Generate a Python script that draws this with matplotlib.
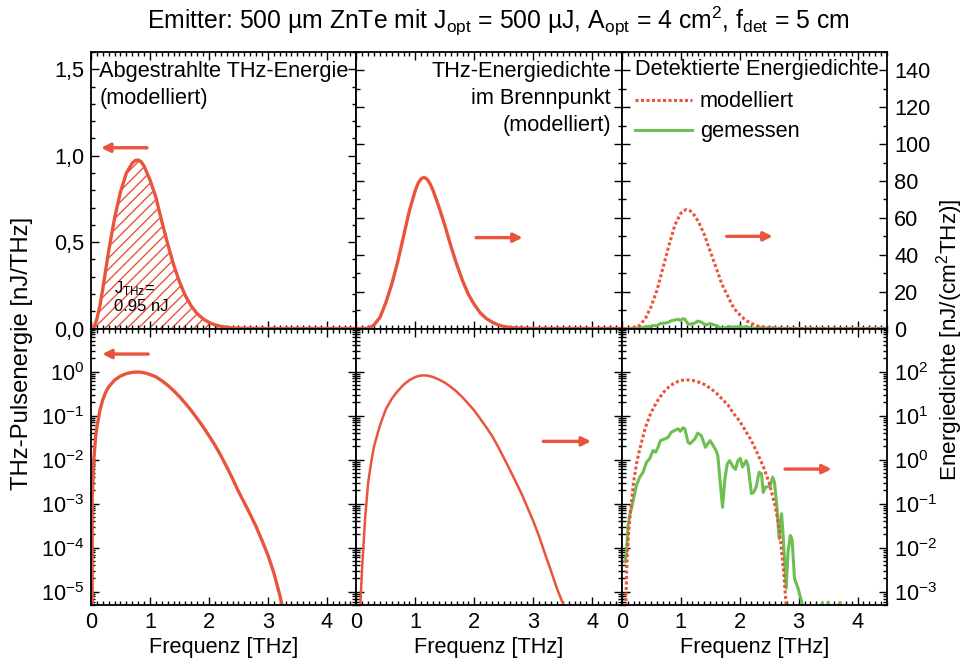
import numpy as np
import matplotlib.pyplot as plt
from matplotlib.ticker import (MultipleLocator, LogLocator, FixedLocator,
                               FuncFormatter, NullFormatter)

plt.rcParams['font.family'] = ['Liberation Sans', 'DejaVu Sans']
plt.rcParams['mathtext.fontset'] = 'custom'
plt.rcParams['mathtext.rm'] = 'Liberation Sans'
plt.rcParams['mathtext.it'] = 'Liberation Sans:italic'
plt.rcParams['mathtext.bf'] = 'Liberation Sans:bold'
plt.rcParams['axes.unicode_minus'] = False
plt.rcParams['hatch.linewidth'] = 1.0

RED = '#e9553c'
GREEN = '#6cbf50'
FS = 15.7

# abgestrahlte Energie [nJ/THz]
f_emit = [0.00, 0.02, 0.05, 0.08, 0.10, 0.15, 0.20, 0.25, 0.30, 0.40, 0.50, 0.60,
          0.70, 0.75, 0.80, 0.85, 0.90, 1.00, 1.10, 1.20, 1.30, 1.40, 1.50, 1.60,
          1.70, 1.80, 1.90, 2.00, 2.10, 2.20, 2.30, 2.40, 2.50, 2.60, 2.70, 2.80,
          2.90, 3.00, 3.10, 3.20, 3.30, 3.50, 4.00, 4.50]
j_emit = [0.0, 0.0015, 0.011, 0.035, 0.055, 0.13, 0.23, 0.34, 0.45, 0.64, 0.79, 0.90,
          0.957, 0.972, 0.975, 0.965, 0.94, 0.86, 0.76, 0.62, 0.49, 0.37, 0.27, 0.19,
          0.13, 0.086, 0.056, 0.035, 0.0215, 0.0125, 0.0069, 0.0037, 0.0019, 0.00105, 0.00057, 0.0003,
          0.000145, 6.8e-5, 2.7e-5, 8.5e-6, 2.2e-6, 1e-7, 1e-9, 1e-11]

# Energiedichte im Brennpunkt [nJ/(cm^2 THz)]
f_focus = [0.00, 0.05, 0.07, 0.10, 0.15, 0.20, 0.25, 0.30, 0.40, 0.50, 0.60, 0.70,
           0.80, 0.90, 1.00, 1.05, 1.10, 1.15, 1.20, 1.25, 1.30, 1.40, 1.50, 1.60,
           1.70, 1.80, 1.90, 2.00, 2.10, 2.20, 2.30, 2.40, 2.50, 2.60, 2.70, 2.80,
           2.90, 3.00, 3.10, 3.20, 3.30, 3.40, 3.50, 3.60, 4.00, 4.50]
e_focus = [0.0, 1e-4, 6e-4, 4e-3, 0.05, 0.3, 0.85, 2.0, 6.0, 14, 24, 36,
           50, 64, 75, 79, 81.3, 82, 81, 78.5, 75, 66, 56, 45,
           35, 26, 18.5, 13, 8.5, 5.5, 3.5, 2.0, 1.1, 0.6, 0.32, 0.17,
           0.083, 0.04, 0.018, 0.0072, 0.003, 1.2e-3, 5.5e-4, 2.4e-4, 1e-5, 1e-7]

# detektierte Energiedichte, Modell
f_det_model = [0.00, 0.05, 0.07, 0.09, 0.12, 0.15, 0.20, 0.25, 0.30, 0.40, 0.50, 0.60,
               0.70, 0.80, 0.90, 1.00, 1.05, 1.10, 1.15, 1.20, 1.30, 1.40, 1.50, 1.60,
               1.70, 1.80, 1.90, 2.00, 2.10, 2.20, 2.30, 2.40, 2.50, 2.60, 2.65, 2.70,
               2.75, 2.80, 3.00, 4.50]
e_det_model = [0.0, 1e-4, 6e-4, 5.5e-3, 0.025, 0.07, 0.3, 0.8, 1.6, 5.3, 12, 21,
               33, 45, 56, 62.5, 64, 64.5, 64, 63, 58, 51, 42, 33,
               24, 17.5, 11, 7.5, 4.5, 2.7, 1.4, 0.7, 0.3, 0.09, 0.04, 0.012,
               2.5e-3, 3e-4, 1e-6, 1e-9]

# detektierte Energiedichte, gemessen
f_meas = [0.051, 0.079, 0.107, 0.136, 0.19, 0.249, 0.305, 0.36, 0.42, 0.475, 0.53, 0.576,
          0.616, 0.655, 0.73, 0.785, 0.84, 0.90, 0.955, 0.994, 1.04, 1.07, 1.124, 1.16,
          1.24, 1.29, 1.35, 1.42, 1.46, 1.50, 1.55, 1.60, 1.63, 1.67, 1.71, 1.75,
          1.79, 1.83, 1.89, 1.93, 1.97, 2.01, 2.05, 2.08, 2.11, 2.14, 2.20, 2.24,
          2.28, 2.33, 2.37, 2.40, 2.44, 2.48, 2.52, 2.56, 2.59, 2.63, 2.67, 2.71,
          2.73, 2.76, 2.79, 2.82, 2.86, 2.89, 2.93, 2.99, 3.05, 3.10, 3.15, 3.20,
          3.30, 3.40, 3.45, 3.50, 3.55, 3.70, 3.75, 3.90, 4.20, 4.50]
e_meas = [4.8e-3, 6.8e-3, 0.032, 0.054, 0.11, 0.26, 0.40, 0.51, 0.87, 1.05, 1.6, 1.48,
          1.9, 2.7, 2.95, 3.2, 4.2, 4.6, 5.0, 4.4, 5.3, 5.0, 2.5, 2.3,
          2.95, 4.0, 3.5, 1.9, 2.3, 2.7, 2.1, 1.6, 1.23, 0.31, 0.083, 0.37,
          0.80, 0.95, 0.68, 0.60, 0.95, 1.07, 0.68, 0.80, 0.95, 0.76, 0.17, 0.18,
          0.24, 0.52, 0.48, 0.18, 0.24, 0.24, 0.26, 0.40, 0.31, 0.091, 0.016, 0.059,
          0.027, 5.6e-3, 1.2e-3, 7.9e-3, 0.019, 0.015, 2.0e-3, 1.2e-3, 5.9e-4, 3e-4, 4.5e-4, 2e-4,
          1.5e-4, 5.5e-4, 3e-4, 5.8e-4, 2e-4, 5.7e-4, 2e-4, 1e-4, 1e-4, 1e-4]

# beschriftete Dekaden der Log-Achsen
decades_left = [1e-5, 1e-4, 1e-3, 1e-2, 1e-1, 1e0]
decades_right = [1e-3, 1e-2, 1e-1, 1e0, 1e1, 1e2]

fig, axs = plt.subplots(2, 3, figsize=(9.64, 6.66), dpi=100)
fig.subplots_adjust(left=0.0944, right=0.9202, bottom=0.0916, top=0.9219,
                    wspace=0, hspace=0)

comma = FuncFormatter(lambda v, pos: f'{v:.1f}'.replace('.', ','))

for ax in axs.flat:
    ax.set_xlim(0, 4.5)
    ax.xaxis.set_major_locator(MultipleLocator(1))
    ax.xaxis.set_minor_locator(MultipleLocator(0.1))
    ax.tick_params(which='both', direction='in', top=True, right=True,
                   labelsize=FS, width=1.0, pad=5)
    ax.tick_params(which='major', length=6)
    ax.tick_params(which='minor', length=3)
    for s in ax.spines.values():
        s.set_linewidth(1.3)

for ax in axs[0]:
    ax.tick_params(labelbottom=False)
for ax in axs[1]:
    ax.set_xlabel('Frequenz [THz]', fontsize=FS, labelpad=3)

# linear row
axs[0, 0].set_ylim(0, 1.6)
axs[0, 0].yaxis.set_major_locator(MultipleLocator(0.5))
axs[0, 0].yaxis.set_minor_locator(MultipleLocator(0.1))
axs[0, 0].yaxis.set_major_formatter(comma)
for ax in axs[0, 1:]:
    ax.set_ylim(0, 150)
    ax.yaxis.set_major_locator(MultipleLocator(20))
    ax.yaxis.set_minor_locator(MultipleLocator(10))

# log row
for ax in axs[1]:
    ax.set_yscale('log')
    ax.yaxis.set_minor_locator(LogLocator(base=10, subs=np.arange(2, 10), numticks=20))
    ax.yaxis.set_minor_formatter(NullFormatter())
axs[1, 0].set_ylim(5e-6, 9.5)
axs[1, 0].yaxis.set_major_locator(FixedLocator(decades_left))
for ax in axs[1, 1:]:
    ax.set_ylim(5e-4, 950)
    ax.yaxis.set_major_locator(FixedLocator(decades_right))

for ax in axs[:, 1]:
    ax.tick_params(labelleft=False)
for ax in axs[:, 2]:
    ax.tick_params(labelleft=False, labelright=True)

# Emitter
ax = axs[0, 0]
ax.fill_between(f_emit, 0, j_emit, facecolor='none', edgecolor=RED, hatch='///', linewidth=0)
ax.plot(f_emit, j_emit, color=RED, lw=2.4, solid_capstyle='butt')
ax.text(0.031, 0.968, 'Abgestrahlte THz-Energie\n(modelliert)', transform=ax.transAxes,
        ha='left', va='top', fontsize=FS, linespacing=1.38)
ax.text(0.085, 0.115, 'J$_{\\mathrm{THz}}$=\n0.95 nJ', transform=ax.transAxes,
        ha='left', va='center', fontsize=12, linespacing=1.1)
axs[1, 0].plot(f_emit, j_emit, color=RED, lw=2.4)

# Brennpunkt
axs[0, 1].plot(f_focus, e_focus, color=RED, lw=2.4)
axs[0, 1].text(0.96, 0.968, 'THz-Energiedichte\nim Brennpunkt\n(modelliert)',
               transform=axs[0, 1].transAxes, ha='right', va='top', fontsize=FS,
               linespacing=1.38, multialignment='right')
axs[1, 1].plot(f_focus, e_focus, color=RED, lw=1.8)

# Detektor
dotted = (0, (1, 0.8))
for ax in axs[:, 2]:
    ax.plot(f_meas, e_meas, color=GREEN, lw=2.2)
    ax.plot(f_det_model, e_det_model, color=RED, lw=2.2, ls=dotted)
h_mod, = axs[0, 2].plot([], [], color=RED, lw=2.2, ls=dotted, label='modelliert')
h_meas, = axs[0, 2].plot([], [], color=GREEN, lw=2.2, label='gemessen')
leg = axs[0, 2].legend(handles=[h_mod, h_meas], loc='upper left',
                       bbox_to_anchor=(0.035, 0.99), frameon=False,
                       title='Detektierte Energiedichte', title_fontsize=FS,
                       fontsize=FS, alignment='left', handlelength=2.6,
                       handletextpad=0.35, labelspacing=0.42, borderpad=0.2,
                       borderaxespad=0)
leg._legend_box.sep = 8

# Achsenzuordnung
arrow = dict(arrowstyle='-|>', color=RED, lw=2.4, mutation_scale=13, shrinkA=0, shrinkB=0)
axs[0, 0].annotate('', xy=(0.17, 1.046), xytext=(0.95, 1.046), arrowprops=arrow)
axs[1, 0].annotate('', xy=(0.19, 2.5), xytext=(0.97, 2.5), arrowprops=arrow)
axs[0, 1].annotate('', xy=(2.82, 49.3), xytext=(2.03, 49.3), arrowprops=arrow)
axs[1, 1].annotate('', xy=(3.98, 2.6), xytext=(3.17, 2.6), arrowprops=arrow)
axs[0, 2].annotate('', xy=(2.56, 50), xytext=(1.78, 50), arrowprops=arrow)
axs[1, 2].annotate('', xy=(3.56, 0.61), xytext=(2.77, 0.61), arrowprops=arrow)

fig.text(0.023, 0.47, 'THz-Pulsenergie [nJ/THz]', rotation=90, ha='center', va='center',
         fontsize=17.2)
fig.text(0.985, 0.49, 'Energiedichte [nJ/(cm$^2$THz)]', rotation=90, ha='center',
         va='center', fontsize=16.2)
fig.text(0.517, 0.968,
         'Emitter: 500 µm ZnTe mit J$_{\\mathrm{opt}}$ = 500 µJ, A$_{\\mathrm{opt}}$ = 4 cm$^2$, '
         'f$_{\\mathrm{det}}$ = 5 cm', ha='center', va='center', fontsize=17.8)

fig.savefig('out.png', dpi=100)
